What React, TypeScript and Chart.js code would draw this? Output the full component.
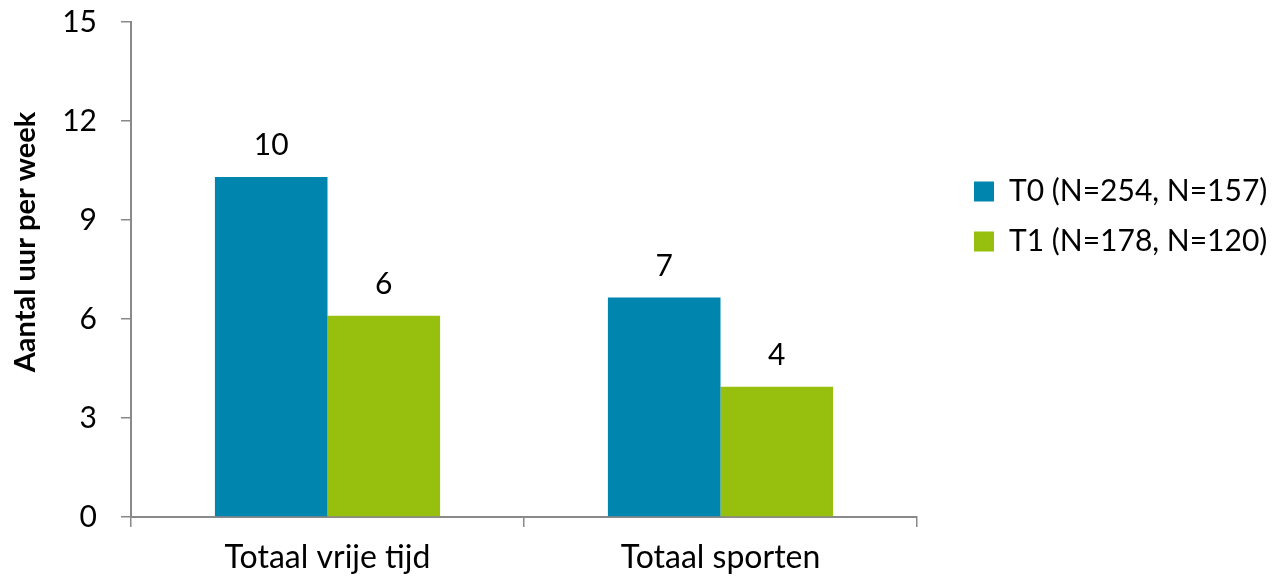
import React, { useEffect, useRef } from "react";
import { Chart, registerables } from "chart.js";

Chart.register(...registerables);

const categories = ["Totaal vrije tijd", "Totaal sporten"];
const seriesNames = ["T0 (N=254, N=157)", "T1 (N=178, N=120)"];
const t0Values = [10.3, 6.65];
const t1Values = [6.1, 3.95];
const seriesColors = ["#0085AE", "#97BF0D"];
const yTitle = "Aantal uur per week";
const yMin = 0;
const yMax = 15;
const yStep = 3;

const FONT = "Lato, 'Open Sans', sans-serif";
const AXIS_GRAY = "#898989";

const valueLabelPlugin = {
  id: "valueLabels",
  afterDatasetsDraw(chart: any) {
    const ctx = chart.ctx;
    ctx.save();
    ctx.font = `30px ${FONT}`;
    ctx.fillStyle = "#000";
    ctx.textAlign = "center";
    ctx.textBaseline = "alphabetic";
    chart.data.datasets.forEach((ds: any, i: number) => {
      const meta = chart.getDatasetMeta(i);
      meta.data.forEach((bar: any, j: number) => {
        const v = ds.data[j];
        ctx.fillText(String(Math.round(v)), bar.x, bar.y - 22);
      });
    });
    ctx.restore();
  },
};

const yTitlePlugin = {
  id: "yTitleText",
  afterDraw(chart: any) {
    const ctx = chart.ctx;
    ctx.save();
    ctx.translate(35, 242);
    ctx.rotate(-Math.PI / 2);
    ctx.font = `bold 29px ${FONT}`;
    ctx.fillStyle = "#000";
    ctx.textAlign = "center";
    ctx.textBaseline = "alphabetic";
    ctx.fillText(yTitle, 0, 0);
    ctx.restore();
  },
};

const legendPlacePlugin = {
  id: "legendPlace",
  beforeLayout(chart: any) {
    const lg = chart.legend;
    if (lg && !lg.__patched) {
      const orig = lg.fit;
      lg.fit = function () {
        orig.call(this);
        this.width = 361;
      };
      lg.__patched = true;
    }
  },
  afterLayout(chart: any) {
    const lg = chart.legend;
    if (!lg) return;
    const w = lg.width;
    lg.left = 954;
    lg.right = 954 + w;
    const h = lg.height;
    lg.top = 156.5;
    lg.bottom = 156.5 + h;
  },
};

export default function App() {
  const ref = useRef<HTMLCanvasElement | null>(null);

  useEffect(() => {
    if (!ref.current) return;
    const chart = new Chart(ref.current, {
      type: "bar",
      data: {
        labels: categories,
        datasets: [
          {
            label: seriesNames[0],
            data: t0Values,
            backgroundColor: seriesColors[0],
            borderWidth: 0,
            categoryPercentage: 0.573,
            barPercentage: 1,
          },
          {
            label: seriesNames[1],
            data: t1Values,
            backgroundColor: seriesColors[1],
            borderWidth: 0,
            categoryPercentage: 0.573,
            barPercentage: 1,
          },
        ],
      },
      options: {
        responsive: false,
        animation: false,
        layout: { padding: { top: 22, left: 0, right: 0, bottom: 0 } },
        plugins: {
          legend: {
            display: true,
            position: "right",
            align: "start",
            labels: {
              boxWidth: 20,
              boxHeight: 20,
              padding: 20,
              color: "#000",
              font: { family: FONT, size: 30 },
            },
          },
          tooltip: { enabled: false },
          title: { display: false },
        },
        scales: {
          x: {
            offset: true,
            grid: {
              display: true,
              offset: true,
              drawOnChartArea: false,
              drawTicks: true,
              tickLength: 10,
              color: AXIS_GRAY,
              lineWidth: 1.5,
            },
            border: { display: true, color: AXIS_GRAY, width: 2 },
            ticks: {
              color: "#000",
              padding: 11,
              font: { family: FONT, size: 32 },
            },
            afterFit(scale: any) {
              scale.height = 59;
              scale.paddingLeft = 0;
              scale.paddingRight = 0;
            },
          },
          y: {
            min: yMin,
            max: yMax,
            grid: {
              display: true,
              drawOnChartArea: false,
              drawTicks: true,
              tickLength: 10,
              color: AXIS_GRAY,
              lineWidth: 1.5,
            },
            border: { display: true, color: AXIS_GRAY, width: 2 },
            ticks: {
              stepSize: yStep,
              color: "#000",
              padding: 24,
              font: { family: FONT, size: 30 },
            },
            afterFit(scale: any) {
              scale.width = 131;
              scale.paddingTop = 0;
              scale.paddingBottom = 0;
            },
          },
        },
      },
      plugins: [valueLabelPlugin, yTitlePlugin, legendPlacePlugin],
    });
    return () => chart.destroy();
  }, []);

  return (
    <div style={{ position: "absolute", left: 0, top: 0, width: 1278, height: 576, background: "#fff" }}>
      <canvas ref={ref} width={1278} height={576} style={{ display: "block" }} />
    </div>
  );
}
